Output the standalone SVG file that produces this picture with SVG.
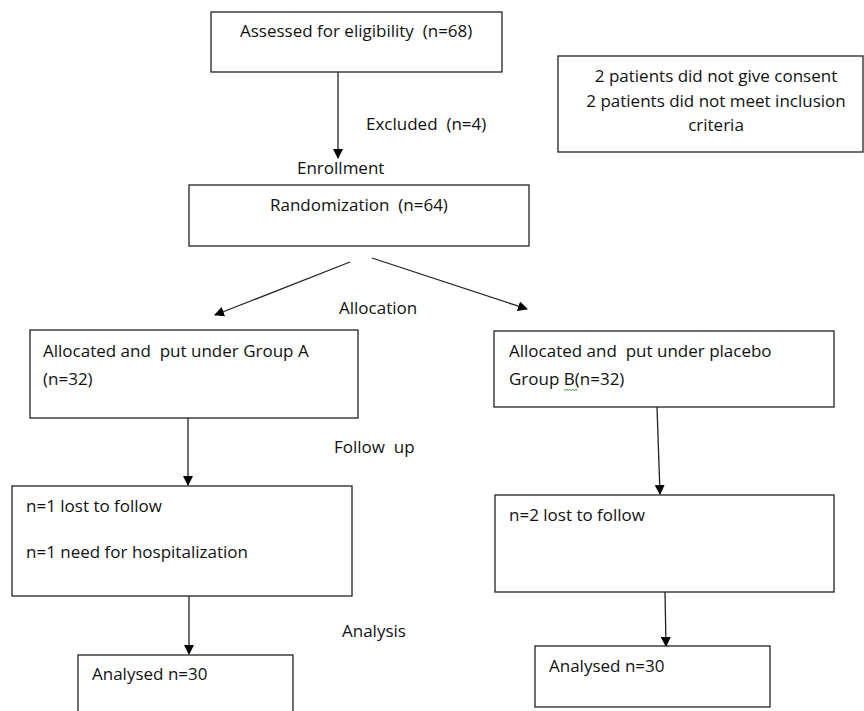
<svg xmlns="http://www.w3.org/2000/svg" width="864" height="711" viewBox="0 0 864 711">
<defs>
<style>
.box{fill:#fff;stroke:#222;stroke-width:1.3}
.t{font-family:"Open Sans","Liberation Sans",Arial,sans-serif;font-size:17px;fill:#111;white-space:pre}
.c{text-anchor:middle}
.ln{stroke:#222;stroke-width:1.3;fill:none;marker-end:url(#ah)}
</style>
<marker id="ah" viewBox="0 0 10 10" refX="9" refY="5" markerWidth="10" markerHeight="10" markerUnits="userSpaceOnUse" orient="auto">
<path d="M0,0 L10,5 L0,10 Z" fill="#000"/>
</marker>
</defs>
<rect width="864" height="711" fill="#fff"/>
<g id="connectors">
<line class="ln" x1="338" y1="72" x2="338" y2="158"/>
<line class="ln" x1="350" y1="262" x2="215" y2="315"/>
<line class="ln" x1="372" y1="258" x2="527" y2="309"/>
<line class="ln" x1="188" y1="418" x2="188" y2="485"/>
<line class="ln" x1="657" y1="407" x2="660" y2="494"/>
<line class="ln" x1="189" y1="596" x2="189" y2="654"/>
<line class="ln" x1="665" y1="592" x2="666" y2="646"/>
</g>
<g id="labels">
<text class="t" x="366" y="130" xml:space="preserve">Excluded  (n=4)</text>
<text class="t" x="297" y="174">Enrollment</text>
<text class="t" x="339" y="314">Allocation</text>
<text class="t" x="334" y="453" xml:space="preserve">Follow  up</text>
<text class="t" x="342" y="637">Analysis</text>
</g>
<g id="assessed">
<rect class="box" x="211" y="12" width="291" height="60"/>
<text class="t" x="240" y="37" xml:space="preserve">Assessed for eligibility  (n=68)</text>
</g>
<g id="excluded-reasons">
<rect class="box" x="558" y="56" width="305" height="96"/>
<text class="t c" x="716" y="82">2 patients did not give consent</text>
<text class="t c" x="716" y="107">2 patients did not meet inclusion</text>
<text class="t c" x="716" y="131">criteria</text>
</g>
<g id="randomization">
<rect class="box" x="189" y="185" width="340" height="61"/>
<text class="t" x="270" y="211" xml:space="preserve">Randomization  (n=64)</text>
</g>
<g id="group-a">
<rect class="box" x="30" y="330" width="328" height="88"/>
<text class="t" x="43" y="357" xml:space="preserve">Allocated and  put under Group A</text>
<text class="t" x="43" y="385">(n=32)</text>
</g>
<g id="group-b">
<rect class="box" x="494" y="331" width="340" height="76"/>
<text class="t" x="509" y="357" xml:space="preserve">Allocated and  put under placebo</text>
<text class="t" x="509" y="385">Group B(n=32)</text>
<path d="M564,389 l1.5,2 l1.5,-2 l1.5,2 l1.5,-2 l1.5,2 l1.5,-2 l1.5,2 l1.5,-2 l1.5,2" fill="none" stroke="#3a9a3a" stroke-width="0.8"/>
</g>
<g id="followup-a">
<rect class="box" x="12" y="486" width="340" height="110"/>
<text class="t" x="26" y="512">n=1 lost to follow</text>
<text class="t" x="26" y="558">n=1 need for hospitalization</text>
</g>
<g id="followup-b">
<rect class="box" x="495" y="495" width="339" height="97"/>
<text class="t" x="509" y="521">n=2 lost to follow</text>
</g>
<g id="analysed-a">
<rect class="box" x="78" y="655" width="215" height="70"/>
<text class="t" x="92" y="680">Analysed n=30</text>
</g>
<g id="analysed-b">
<rect class="box" x="535" y="646" width="235" height="61"/>
<text class="t" x="549" y="672">Analysed n=30</text>
</g>
</svg>
